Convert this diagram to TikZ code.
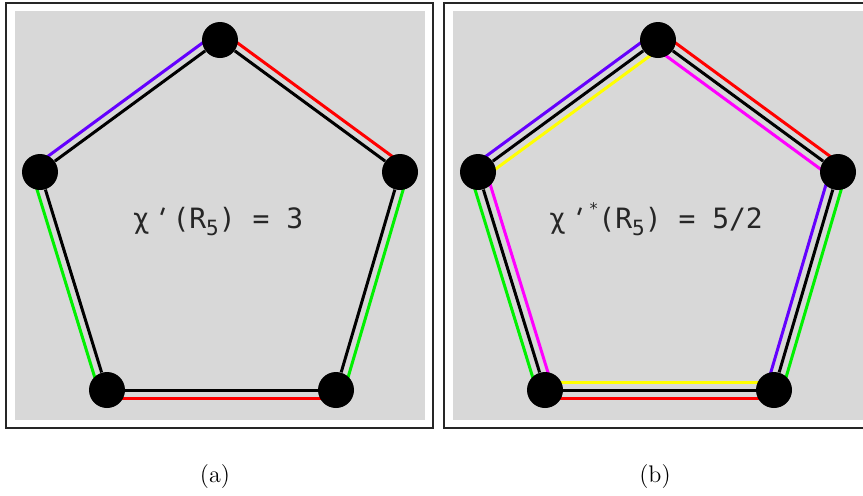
\documentclass[tikz,border=0pt]{standalone}
\usepackage{fontspec}
\newfontfamily\valuefont{DejaVu Sans Mono}
\usepackage{xcolor}
\usetikzlibrary{calc}
\definecolor{panelgray}{RGB}{216,216,216}
\definecolor{edgeblue}{RGB}{100,0,255}
\definecolor{edgered}{RGB}{255,0,0}
\definecolor{edgegreen}{RGB}{0,240,0}
\definecolor{edgeyellow}{RGB}{255,255,0}
\definecolor{edgemagenta}{RGB}{255,0,255}
\pgfdeclarelayer{panels}
\pgfdeclarelayer{edges}
\pgfsetlayers{panels,edges,main}
\newcommand{\slantprime}{\rotatebox[origin=c]{-20}{'}}

\begin{document}
\begin{tikzpicture}[x=0.5pt, y=-0.5pt,
  vertex/.style={circle, fill=black, minimum size=18pt, inner sep=0pt},
  edgeline/.style={line width=1.5pt},
  panel/.style={draw=black!85, line width=0.6pt, fill=white},
  valuelabel/.style={anchor=base, inner sep=0pt, text=black!85, font=\valuefont\fontsize{14}{16}\selectfont},
  caption/.style={font=\fontsize{12}{14}\selectfont}]
\useasboundingbox (0,0) rectangle (863,495);
\clip (0,0) rectangle (863,495);
% frames and gray fields
\begin{pgfonlayer}{panels}
  \draw[panel] (6,3) rectangle (433,428);
  \fill[panelgray] (15,11) rectangle (425,420);
  \draw[panel] (444,3) rectangle (880,428);
  \fill[panelgray] (453,11) rectangle (872,420);
\end{pgfonlayer}
% the two 5-cycles
\foreach \p/\dx in {a/0, b/438} {
  \foreach \i/\x/\y in {1/220/40, 2/400/172, 3/336/390, 4/107/390, 5/40/172} {
    \node[vertex] (\p\i) at (\x+\dx,\y) {};
  }
}
\begin{pgfonlayer}{edges}
  % black middle lines
  \foreach \p in {a,b} {
    \foreach \u/\v in {1/2, 2/3, 3/4, 4/5, 5/1} {
      \draw[edgeline] (\p\u) -- (\p\v);
    }
  }
  % outer colour of each edge
  \foreach \u/\v/\c in {a1/a2/edgered, a2/a3/edgegreen, a3/a4/edgered, a4/a5/edgegreen, a5/a1/edgeblue,
                        b1/b2/edgered, b2/b3/edgegreen, b3/b4/edgered, b4/b5/edgegreen, b5/b1/edgeblue} {
    \draw[edgeline, \c] ($(\u)!4pt!90:(\v)$) -- ($(\v)!4pt!-90:(\u)$);
  }
  % inner colour, fractional colouring only
  \foreach \u/\v/\c in {b1/b2/edgemagenta, b2/b3/edgeblue, b3/b4/edgeyellow, b4/b5/edgemagenta, b5/b1/edgeyellow} {
    \draw[edgeline, \c] ($(\u)!4pt!-90:(\v)$) -- ($(\v)!4pt!90:(\u)$);
  }
\end{pgfonlayer}
% values
\node[valuelabel] (vala) at (218,228) {χ\slantprime(R\raisebox{-3.5pt}{\fontsize{10.5}{12}\selectfont 5}) = 3};
\node[valuelabel] (valb) at (656,228) {χ\slantprime\raisebox{7pt}{\fontsize{8}{9}\selectfont *}(R\raisebox{-3.5pt}{\fontsize{10.5}{12}\selectfont 5}) = 5/2};
% captions
\node[caption] (capa) at (215,476) {(a)};
\node[caption] (capb) at (655,476) {(b)};
\end{tikzpicture}
\end{document}
